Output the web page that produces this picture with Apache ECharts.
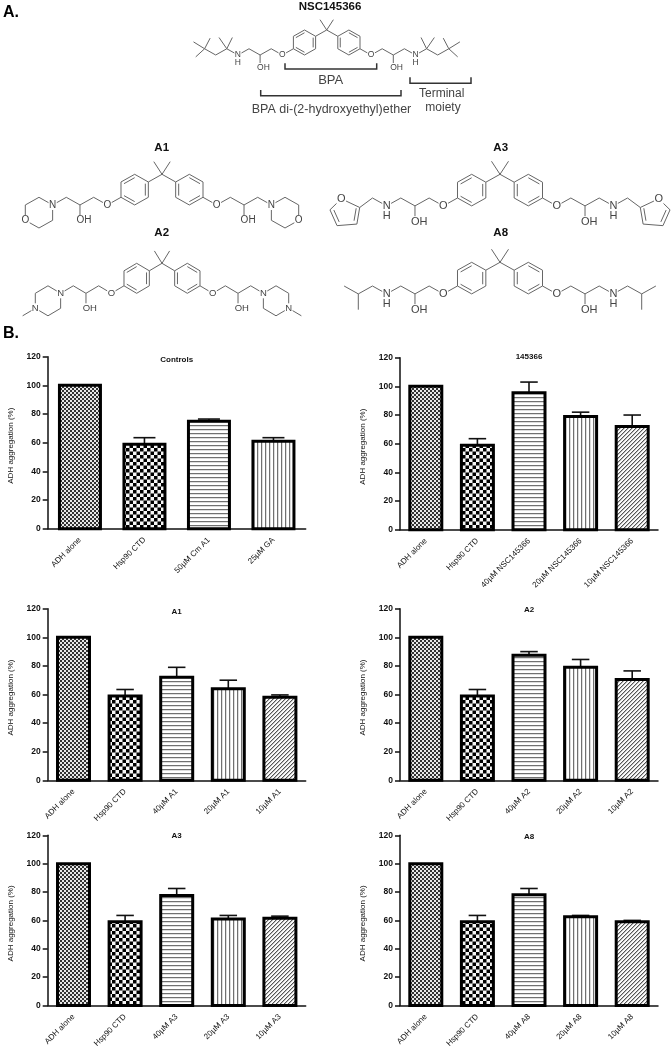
<!DOCTYPE html>
<html>
<head>
<meta charset="utf-8">
<style>
  html, body { margin: 0; padding: 0; background: #fff; }
  #chart { width: 672px; height: 1050px; }
</style>
<script src="https://cdn.jsdelivr.net/npm/echarts@6/dist/echarts.min.js"></script>
</head>
<body>
<div id="chart"></div>
<script>
// values
const yTicks = [0, 20, 40, 60, 80, 100, 120]
const controlsCats = ['ADH alone', 'Hsp90 CTD', '50µM Cm A1', '25µM GA']
const controlsVals = [100, 59, 75, 61]
const controlsTops = [null, 63.5, 76.5, 63.5]
const nscCats = ['ADH alone', 'Hsp90 CTD', '40µM NSC145366', '20µM NSC145366', '10µM NSC145366']
const nscVals = [100, 59, 95.5, 79, 72]
const nscTops = [null, 63.5, 103, 82, 80]
const a1Cats = ['ADH alone', 'Hsp90 CTD', '40µM A1', '20µM A1', '10µM A1']
const a1Vals = [100, 59, 72, 64, 58]
const a1Tops = [null, 63.5, 79, 70, 59.7]
const a2Cats = ['ADH alone', 'Hsp90 CTD', '40µM A2', '20µM A2', '10µM A2']
const a2Vals = [100, 59, 87.5, 79, 70.5]
const a2Tops = [null, 63.5, 90, 84.5, 76.5]
const a3Cats = ['ADH alone', 'Hsp90 CTD', '40µM A3', '20µM A3', '10µM A3']
const a3Vals = [100, 59, 77.5, 61, 61.5]
const a3Tops = [null, 63.5, 82.5, 63.5, 63]
const a8Cats = ['ADH alone', 'Hsp90 CTD', '40µM A8', '20µM A8', '10µM A8']
const a8Vals = [100, 59, 78, 62.5, 59]
const a8Tops = [null, 63.5, 82.5, 63.5, 60]

const FONT = '"Liberation Sans", Arial, sans-serif'
const INK = '#111'
const GREY = '#444'

const panels = [
  {title: 'Controls', cats: controlsCats, vals: controlsVals, tops: controlsTops, left: 47.7, top: 356.7, bottom: 528.7, titleY: 356, fills: ['fine', 'coarse', 'hlines', 'vlines']},
  {title: '145366', cats: nscCats, vals: nscVals, tops: nscTops, left: 400, top: 357.7, bottom: 529.7, titleY: 353},
  {title: 'A1', cats: a1Cats, vals: a1Vals, tops: a1Tops, left: 47.7, top: 608.7, bottom: 780.3, titleY: 608},
  {title: 'A2', cats: a2Cats, vals: a2Vals, tops: a2Tops, left: 400, top: 608.7, bottom: 780.3, titleY: 606},
  {title: 'A3', cats: a3Cats, vals: a3Vals, tops: a3Tops, left: 47.7, top: 835.3, bottom: 1007, titleY: 832},
  {title: 'A8', cats: a8Cats, vals: a8Vals, tops: a8Tops, left: 400, top: 835.3, bottom: 1007, titleY: 833}
]
const PLOT_W = 258

// GraphPad style hatch fills
function makePattern(kind) {
  const c = document.createElement('canvas')
  const g = c.getContext('2d')
  if (kind === 'fine' || kind === 'coarse') {
    const s = kind === 'fine' ? 2 : 3.5
    c.width = c.height = s * 2
    g.fillStyle = kind === 'fine' ? '#e8e8e8' : '#f6f6f6'
    g.fillRect(0, 0, s * 2, s * 2)
    g.fillStyle = kind === 'fine' ? '#333' : '#000'
    g.fillRect(0, 0, s, s)
    g.fillRect(s, s, s, s)
  } else if (kind === 'hlines' || kind === 'vlines') {
    c.width = c.height = 4
    g.fillStyle = '#fff'
    g.fillRect(0, 0, 4, 4)
    g.fillStyle = '#707070'
    if (kind === 'hlines') g.fillRect(0, 1, 4, 1)
    else g.fillRect(1, 0, 1, 4)
    g.fillStyle = '#ddd'
    if (kind === 'hlines') g.fillRect(0, 2, 4, 1)
    else g.fillRect(2, 0, 1, 4)
  } else {
    c.width = c.height = 4
    g.fillStyle = '#fafafa'
    g.fillRect(0, 0, 4, 4)
    for (let i = 0; i < 4; i++) {
      g.fillStyle = '#555'
      g.fillRect(i, 3 - i, 1, 1)
      g.fillStyle = '#bbb'
      g.fillRect(i, (4 - i) % 4, 1, 1)
    }
  }
  return {image: c, repeat: 'repeat'}
}
const patterns = {}
;['fine', 'coarse', 'hlines', 'vlines', 'diag'].forEach(k => { patterns[k] = makePattern(k) })
const defaultFills = ['fine', 'coarse', 'hlines', 'vlines', 'diag']

// molecule skeletons in half-hexagon steps from the central carbon, left half only
const coreBonds = [
  [[0, 0], [-1, 1], [-1, 3], [-2, 4], [-3, 3], [-3, 1], [-2, 0], [-1, 1]],
  [[-3, 3], [-4, 4], [-5, 3], [-6, 4], [-7, 3], [-8, 4]],
  [[-6, 4], [-6, 6]],
  [[0, 0], [-0.6, -1.65]]
]
const coreInner = [[[-1, 1], [-1, 3]], [[-2, 4], [-3, 3]], [[-3, 1], [-2, 0]]]
const coreLabels = [['O', -4, 4, 0], ['OH', -6, 6, 0.3], ['N', -8, 4, 0]]
const nhLabel = ['H', -8, 5.3, 0]

const tails = {
  morpholine: {
    bonds: [[[-8, 4], [-8, 6], [-9, 7], [-10, 6], [-10, 4], [-9, 3], [-8, 4]]],
    labels: [['O', -10, 6, 0]]
  },
  piperazine: {
    bonds: [[[-8, 4], [-8, 6], [-9, 7], [-10, 6], [-10, 4], [-9, 3], [-8, 4]], [[-10, 6], [-11, 7]]],
    labels: [['N', -10, 6, 0]]
  },
  furfuryl: {
    bonds: [[[-8, 4], [-9, 3], [-9.9, 4.2], [-10.1, 6.3], [-11.5, 6.5], [-12, 4.5], [-11.2, 3.1], [-9.9, 4.2]]],
    inner: [[[-9.9, 4.2], [-10.1, 6.3]], [[-11.5, 6.5], [-12, 4.5]]],
    innerCenter: [-10.9, 4.6],
    labels: [nhLabel, ['O', -11.2, 3.1, 0]]
  },
  isobutyl: {
    bonds: [[[-8, 4], [-9, 3], [-10, 4], [-11, 3]], [[-10, 4], [-10, 6]]],
    labels: [nhLabel]
  },
  octyl: {
    bonds: [[[-8, 4], [-9, 3], [-10, 4], [-11, 3]], [[-9, 3], [-9.7, 1.2]], [[-9, 3], [-8.5, 1.2]],
      [[-11, 3], [-12, 1.9]], [[-11, 3], [-11.8, 4.3]], [[-11, 3], [-10.5, 1.3]]],
    labels: [nhLabel]
  }
}

const graphics = []

function line(pts, w) {
  graphics.push({type: 'polyline', silent: true, z: 10, shape: {points: pts}, style: {stroke: w ? '#333' : '#666', lineWidth: w || 1, fill: null}})
}
function text(str, x, y, size, opt) {
  opt = opt || {}
  graphics.push({type: 'text', silent: true, z: 20, style: {
    text: str, x: x, y: y, align: 'center', verticalAlign: 'middle',
    font: (opt.bold ? 'bold ' : '') + size + 'px ' + FONT,
    fill: opt.fill || GREY, backgroundColor: opt.bg || null, padding: opt.bg ? [0, 0.5] : 0
  }})
}

function addMolecule(cx, cy, dx, dy, tail, size) {
  ;[1, -1].forEach(side => {
    const at = p => [cx + side * p[0] * dx, cy + p[1] * dy]
    coreBonds.concat(tail.bonds).forEach(b => line(b.map(at)))
    coreInner.forEach(b => {
      const shrunk = b.map(p => [-2 + (p[0] + 2) * 0.78, 2 + (p[1] - 2) * 0.78])
      line(shrunk.map(at))
    })
    ;(tail.inner || []).forEach(b => {
      const k = tail.innerCenter
      line(b.map(p => at([k[0] + (p[0] - k[0]) * 0.75, k[1] + (p[1] - k[1]) * 0.75])))
    })
    coreLabels.concat(tail.labels).forEach(l => {
      text(l[0], cx + side * l[1] * dx + l[3] * dx, cy + l[2] * dy, size, {bg: '#fff'})
    })
  })
}

addMolecule(326.7, 30, 11.1, 6.25, tails.octyl, 8.5)
addMolecule(162, 174.3, 13.67, 7.67, tails.morpholine, 10)
addMolecule(162, 263.3, 12.67, 7.5, tails.piperazine, 9.5)
addMolecule(500, 174.3, 14.17, 7.9, tails.furfuryl, 11)
addMolecule(500, 262.3, 14.17, 7.9, tails.isobutyl, 11)

// annotation brackets under NSC145366
line([[285, 63.3], [285, 69], [376.7, 69], [376.7, 63.3]], 1.5)
line([[260.7, 90], [260.7, 95.7], [401, 95.7], [401, 90]], 1.5)
line([[410, 77.3], [410, 83.3], [471, 83.3], [471, 77.3]], 1.5)

text('A.', 11, 13, 16, {bold: true, fill: '#000'})
text('B.', 11, 334, 16, {bold: true, fill: '#000'})
text('NSC145366', 330, 7, 11.5, {bold: true, fill: '#111'})
text('A1', 161.7, 148.3, 11.5, {bold: true, fill: '#111'})
text('A2', 161.7, 233, 11.5, {bold: true, fill: '#111'})
text('A3', 500.7, 148.3, 11.5, {bold: true, fill: '#111'})
text('A8', 500.7, 233, 11.5, {bold: true, fill: '#111'})
text('BPA', 330.7, 80, 13)
text('BPA di-(2-hydroxyethyl)ether', 331.5, 110, 12.5)
text('Terminal', 441.7, 94, 12)
text('moiety', 443, 108, 12)

const grids = [], xAxes = [], yAxes = [], titles = [], series = []

panels.forEach((p, i) => {
  const n = p.cats.length
  const fills = p.fills || defaultFills
  grids.push({left: p.left, top: p.top, width: PLOT_W, height: p.bottom - p.top, containLabel: false})
  titles.push({
    text: p.title, left: p.left + PLOT_W / 2, top: p.titleY, textAlign: 'center', padding: 0,
    textStyle: {fontFamily: FONT, fontSize: 8, fontWeight: 'bold', color: INK}
  })
  xAxes.push({
    type: 'category', gridIndex: i, data: p.cats,
    axisLine: {onZero: false, lineStyle: {color: '#111', width: 1.5}},
    axisTick: {alignWithLabel: true, length: 4, lineStyle: {color: '#111', width: 1.5}},
    axisLabel: {interval: 0, rotate: 45, margin: 10, fontFamily: FONT, fontSize: 8, color: INK}
  })
  yAxes.push({
    type: 'value', gridIndex: i, min: 0, max: 120, interval: yTicks[1] - yTicks[0],
    name: 'ADH aggregation (%)', nameLocation: 'middle', nameRotate: 90, nameGap: 33, nameMoveOverlap: false,
    nameTextStyle: {fontFamily: FONT, fontSize: 8, color: INK, padding: [0, 6, 0, 0]},
    splitLine: {show: false},
    axisLine: {show: true, lineStyle: {color: '#111', width: 1.5}},
    axisTick: {show: true, length: 5, lineStyle: {color: '#111', width: 1.5}},
    axisLabel: {margin: 7, fontFamily: FONT, fontSize: 8.5, fontWeight: 'bold', color: INK}
  })
  const barW = n === 4 ? 41 : 32
  // the library insets a bar border, so the fill stays in the bar and the outline goes on top
  series.push({
    type: 'bar', xAxisIndex: i, yAxisIndex: i, barWidth: barW, silent: true, z: 2,
    data: p.vals.map((v, k) => ({value: v, itemStyle: {color: patterns[fills[k]]}}))
  })
  series.push({
    type: 'custom', xAxisIndex: i, yAxisIndex: i, silent: true, z: 3,
    data: p.vals.map((v, k) => [k, v]),
    encode: {x: 0, y: 1},
    renderItem: (params, api) => {
      const top = api.coord([api.value(0), api.value(1)])
      const base = api.coord([api.value(0), 0])
      return {type: 'rect', shape: {x: top[0] - barW / 2, y: top[1], width: barW, height: base[1] - top[1]},
        style: {fill: 'none', stroke: '#000', lineWidth: 3}}
    }
  })
  // error bars, only the upper whisker is shown
  series.push({
    type: 'custom', xAxisIndex: i, yAxisIndex: i, silent: true, z: 1,
    data: p.vals.map((v, k) => [k, v, p.tops[k]]).filter(d => d[2] != null),
    encode: {x: 0, y: [1, 2]},
    renderItem: (params, api) => {
      const a = api.coord([api.value(0), api.value(1)])
      const b = api.coord([api.value(0), api.value(2)])
      const half = (barW + 3) / 4
      const st = {stroke: '#111', lineWidth: 1.6}
      return {type: 'group', children: [
        {type: 'line', shape: {x1: a[0], y1: a[1], x2: b[0], y2: b[1]}, style: st},
        {type: 'line', shape: {x1: b[0] - half, y1: b[1], x2: b[0] + half, y2: b[1]}, style: st}
      ]}
    }
  })
})

const myChart = echarts.init(document.getElementById('chart'), null, {renderer: 'canvas'})
myChart.setOption({
  animation: false,
  backgroundColor: '#fff',
  title: titles,
  grid: grids,
  xAxis: xAxes,
  yAxis: yAxes,
  series: series,
  graphic: {elements: graphics}
})
</script>
</body>
</html>
